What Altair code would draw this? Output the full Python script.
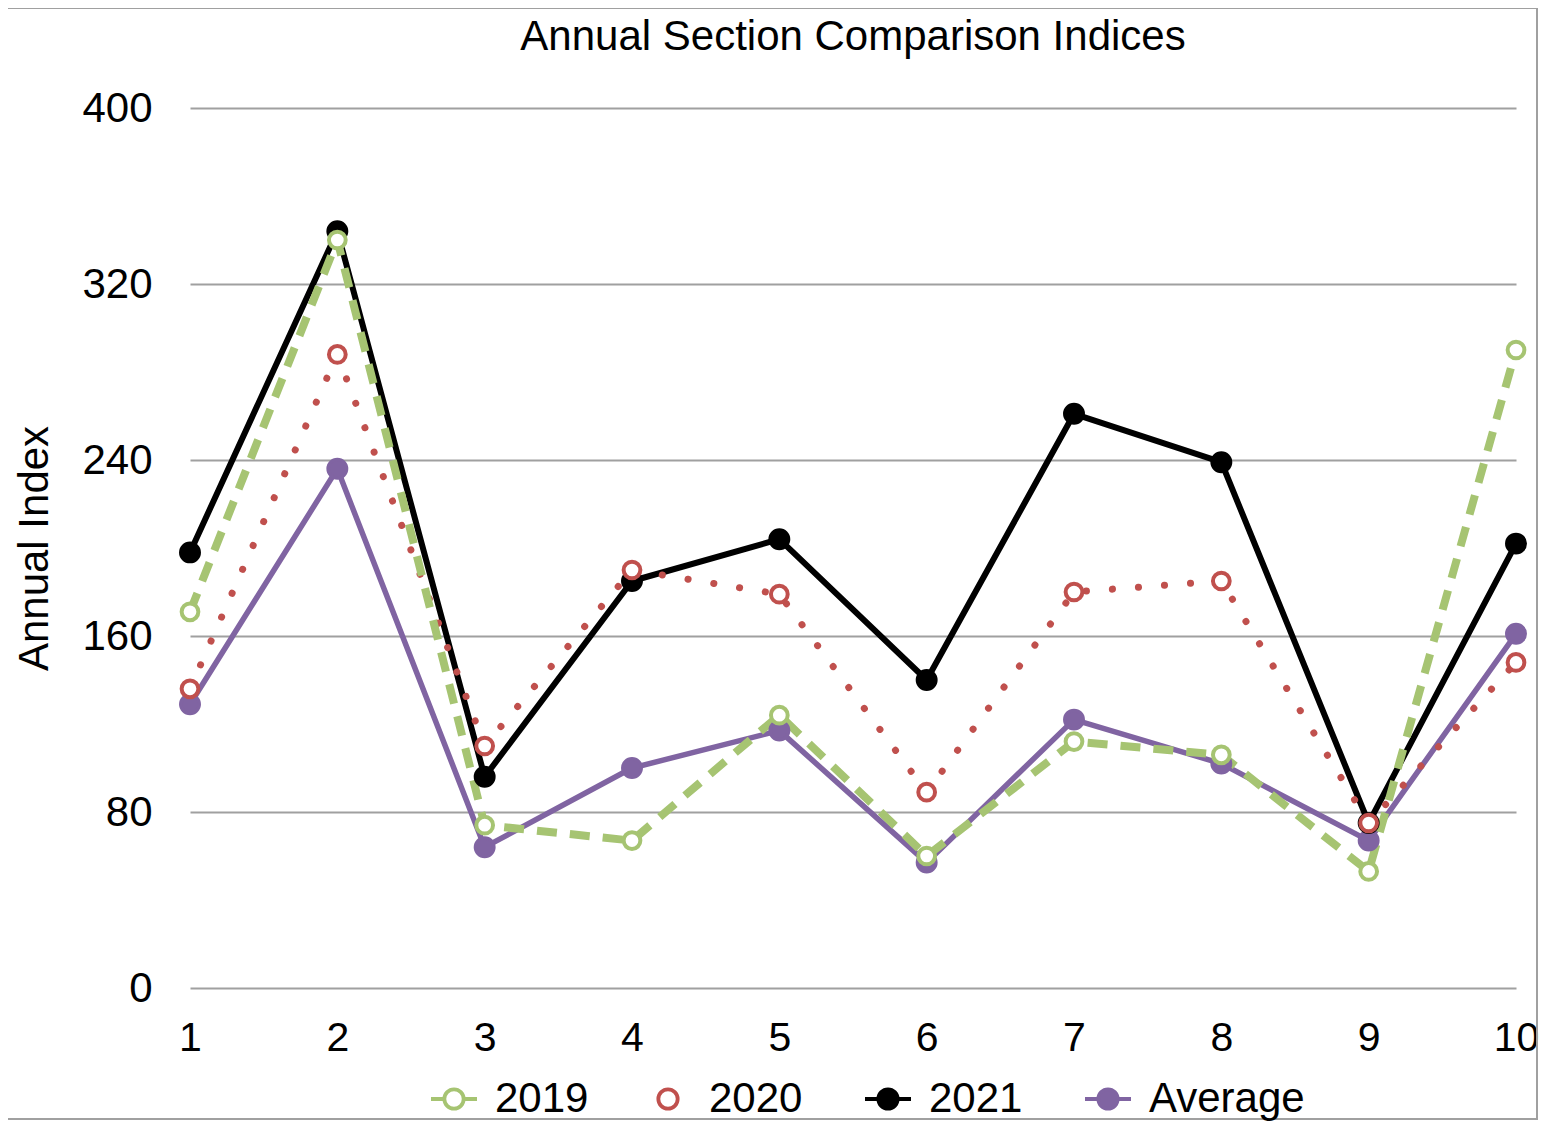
import altair as alt
import pandas as pd

# ---- data ----
chart_title = "Annual Section Comparison Indices"
sections = [1, 2, 3, 4, 5, 6, 7, 8, 9, 10]
series_names = ["2019", "2020", "2021", "Average"]
v2019 = [171, 340, 74, 67, 124, 60, 112, 106, 53, 290]
v2020 = [136, 288, 110, 190, 179, 89, 180, 185, 75, 148]
v2021 = [198, 344, 96, 185, 204, 140, 261, 239, 75, 202]
vavg = [129, 236, 64, 100, 117, 57, 122, 102, 67, 161]
y_ticks = [0, 80, 160, 240, 320, 400]

colors = ["#a6c472", "#c0504d", "#000000", "#8064a2"]
fills = ["#ffffff", "#ffffff", "#000000", "#8064a2"]
draw_rank = {"Average": 0, "2021": 1, "2020": 2, "2019": 3}

rows = []
for name, vals in zip(series_names, [v2019, v2020, v2021, vavg]):
    for s, v in zip(sections, vals):
        rows.append({"section": s, "value": v, "series": name, "z": draw_rank[name]})
df = pd.DataFrame(rows)

FONT = "Liberation Sans"
W, H = 1326, 880
PAD = {"left": 182, "top": 100, "right": 23, "bottom": 133}

x_enc = alt.X(
    "section:Q",
    scale=alt.Scale(domain=[1, 10], nice=False, zero=False),
    axis=alt.Axis(values=sections, grid=False, domain=False, ticks=False, tickSize=0,
                  labelFontSize=41, labelFont=FONT, labelColor="#000", labelPadding=30,
                  labelFlush=False, title=None),
)
y_enc = alt.Y(
    "value:Q",
    scale=alt.Scale(domain=[0, 400], nice=False),
    axis=alt.Axis(values=y_ticks, grid=True, gridColor="#a0a0a0", gridWidth=2,
                  domain=False, ticks=False, tickSize=0,
                  labelFontSize=42, labelFont=FONT, labelColor="#000", labelPadding=38,
                  title="Annual Index", titleFont=FONT, titleFontSize=42,
                  titleFontWeight="normal", titleColor="#000", titleAngle=270,
                  titleX=-156, titleY=440, titleAlign="center", titleBaseline="middle"),
)
color_nl = alt.Color("series:N", scale=alt.Scale(domain=series_names, range=colors), legend=None)
fill_nl = alt.Fill("series:N", scale=alt.Scale(domain=series_names, range=fills), legend=None)

base = alt.Chart(df)


def line_layer(name, width, dash=None, cap="butt"):
    kw = dict(strokeWidth=width, strokeCap=cap, strokeJoin="round")
    if dash is not None:
        kw["strokeDash"] = dash
    return base.transform_filter(alt.datum.series == name).mark_line(**kw).encode(
        x=x_enc, y=y_enc, color=color_nl)


lines = [
    line_layer("Average", 5.5),
    line_layer("2021", 6),
    line_layer("2020", 7, dash=[0.1, 26], cap="round"),
    line_layer("2019", 8, dash=[20, 13]),
]

filled_pts = base.transform_filter("datum.series == '2021' || datum.series == 'Average'").mark_point(
    shape="circle", filled=False, opacity=1, strokeWidth=3.5, size=340
).encode(x=x_enc, y=y_enc, color=color_nl, fill=fill_nl, order=alt.Order("z:Q"))

open_pts = base.transform_filter("datum.series == '2019' || datum.series == '2020'").mark_point(
    shape="circle", filled=False, opacity=1, strokeWidth=4, size=280
).encode(x=x_enc, y=y_enc, color=color_nl, fill=fill_nl, order=alt.Order("z:Q"))

# legend-only layer (invisible marks); symbols come from the shared scales
stub = "M-1,0L-0.42,0M0.42,0L1,0M0.42,0A0.42,0.42,0,1,1,-0.42,0A0.42,0.42,0,1,1,0.42,0Z"
ring = "M0.42,0A0.42,0.42,0,1,1,-0.42,0A0.42,0.42,0,1,1,0.42,0Z"
legend = alt.Legend(
    title=None, orient="none", direction="horizontal", columns=4,
    legendX=239, legendY=966, padding=0,
    labelFontSize=42, labelFont=FONT, labelColor="#000", labelOffset=16,
    columnPadding=54, symbolSize=2116, symbolStrokeWidth=3.8, symbolOpacity=1,
)
legend_layer = base.mark_point(filled=False, opacity=0).encode(
    x=x_enc, y=y_enc,
    color=alt.Color("series:N", scale=alt.Scale(domain=series_names, range=colors), legend=legend),
    fill=alt.Fill("series:N", scale=alt.Scale(domain=series_names, range=fills), legend=legend),
    shape=alt.Shape("series:N", scale=alt.Scale(domain=series_names, range=[stub, ring, stub, stub]),
                    legend=legend),
)

frame = alt.Chart(pd.DataFrame({"f": [0]})).mark_rect(
    filled=False, stroke="#a0a0a0", strokeWidth=2
).encode(x=alt.value(-183), x2=alt.value(1347), y=alt.value(-100), y2=alt.value(1011))

title_layer = alt.Chart(pd.DataFrame({"t": [chart_title]})).mark_text(
    font=FONT, fontSize=42, color="#000", align="center", baseline="alphabetic"
).encode(text="t:N", x=alt.value(W / 2), y=alt.value(-58))

chart = alt.layer(frame, title_layer, *lines, filled_pts, open_pts, legend_layer).properties(
    width=W, height=H, padding=PAD,
    autosize=alt.AutoSizeParams(type="none"),
).resolve_legend(color="independent", fill="independent", shape="independent").configure_view(stroke=None)

chart.save("out.html", embed_options={"renderer": "svg", "actions": False})
